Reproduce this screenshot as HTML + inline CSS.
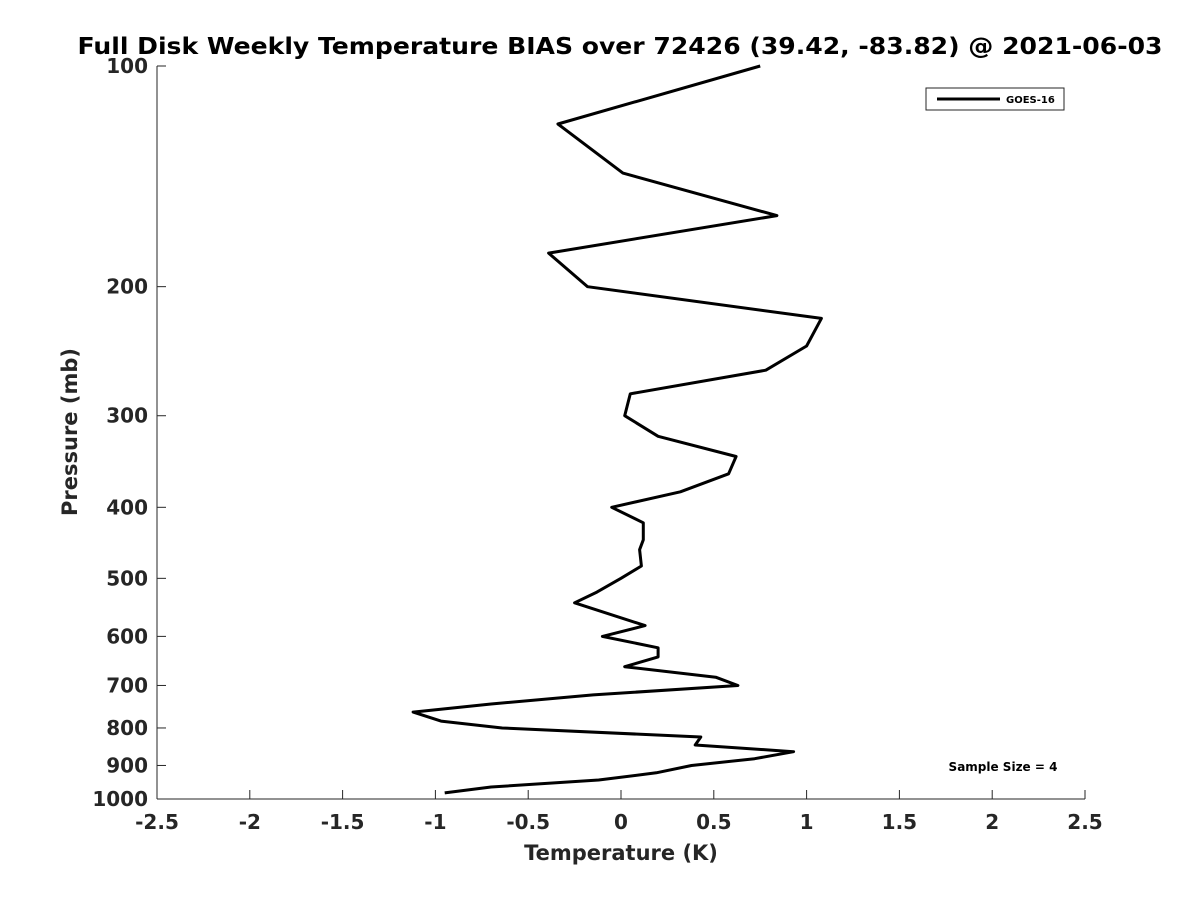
<!DOCTYPE html>
<html><head><meta charset="utf-8"><style>
body{margin:0;background:#fff;}
svg text{font-family:"DejaVu Sans","Liberation Sans",sans-serif;font-weight:bold;fill:#262626;}
</style></head><body>
<svg id="chart" width="1200" height="900">
<text x="620" y="54" text-anchor="middle" font-size="23" textLength="1085" lengthAdjust="spacingAndGlyphs" style="fill:#000">Full Disk Weekly Temperature BIAS over 72426 (39.42, -83.82) @ 2021-06-03</text>
<rect x="157" y="66" width="928" height="733" fill="none" stroke="none"/>
<line x1="157" y1="66" x2="157" y2="799" stroke="#262626"/>
<line x1="157" y1="799" x2="1085" y2="799" stroke="#262626"/>
<g id="xticks"></g><g id="yticks"></g>
<text x="621" y="860" text-anchor="middle" font-size="21">Temperature (K)</text>
<text transform="translate(77,432) rotate(-90)" text-anchor="middle" font-size="21">Pressure (mb)</text>
<path id="series" fill="none" stroke="#000" stroke-width="3" stroke-linejoin="round"/>
<g>
<rect x="926" y="88" width="138" height="22" fill="#fff" stroke="#262626" stroke-width="1"/>
<line x1="937" y1="99" x2="1000" y2="99" stroke="#000" stroke-width="3"/>
<text x="1006" y="103" font-size="10" style="fill:#000">GOES-16</text>
</g>
<text x="1003" y="771" text-anchor="middle" font-size="12" style="fill:#000">Sample Size = 4</text>
</svg>
<script>
const temps=[0.75,-0.34,0.01,0.84,-0.39,-0.18,1.08,1.0,0.78,0.05,0.02,0.2,0.62,0.58,0.32,-0.05,0.12,0.12,0.10,0.11,0,-0.13,-0.25,0.13,-0.1,0.2,0.2,0.02,0.51,0.63,-0.15,-0.7,-1.12,-0.97,-0.64,0.43,0.4,0.93,0.72,0.38,0.19,-0.12,-0.7,-0.95];
const pressures=[100,120,140,160,180,200,221,241,260,280,300,320,341,360,381,400,420,443,457,481,500,522,540,580,600,622,640,660,682,700,721,742,761,783,800,823,844,862,881,900,921,942,963,981];
const xTicks=[-2.5,-2,-1.5,-1,-0.5,0,0.5,1,1.5,2,2.5];
const yTicks=[100,200,300,400,500,600,700,800,900,1000];
const NS='http://www.w3.org/2000/svg';
function xs(v){return 157+(v+2.5)/5*928;}
function ys(p){return 66+(Math.log10(p)-2)*733;}
const xg=document.getElementById('xticks'),yg=document.getElementById('yticks');
xTicks.forEach(t=>{
 const l=document.createElementNS(NS,'line');
 
 
 l.setAttribute('x1',xs(t));l.setAttribute('x2',xs(t));l.setAttribute('y1',799);l.setAttribute('y2',790);l.setAttribute('stroke','#262626');xg.appendChild(l);
 const s=document.createElementNS(NS,'text');
 
 
 s.setAttribute('x',xs(t));s.setAttribute('y',829);s.setAttribute('text-anchor','middle');s.setAttribute('font-size','20');s.textContent=String(t);xg.appendChild(s);
});
yTicks.forEach(t=>{
 const l=document.createElementNS(NS,'line');
 
 
 l.setAttribute('x1',157);l.setAttribute('x2',166);l.setAttribute('y1',ys(t));l.setAttribute('y2',ys(t));l.setAttribute('stroke','#262626');yg.appendChild(l);
 const s=document.createElementNS(NS,'text');
 
 
 s.setAttribute('x',148);s.setAttribute('y',ys(t)+7);s.setAttribute('text-anchor','end');s.setAttribute('font-size','20');s.textContent=String(t);yg.appendChild(s);
});
document.getElementById('series').setAttribute('d',temps.map((t,i)=>(i?'L':'M')+xs(t).toFixed(1)+','+ys(pressures[i]).toFixed(1)).join(' '));
</script>
</body></html>
